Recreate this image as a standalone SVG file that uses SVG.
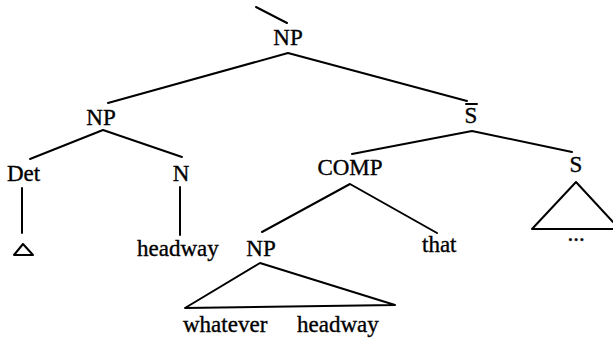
<svg xmlns="http://www.w3.org/2000/svg" width="613" height="339" viewBox="0 0 613 339">
  <style>
    .edge { stroke: #000; stroke-width: 2; fill: none; stroke-linecap: round; stroke-linejoin: round; }
    .lbl { font-family: "Liberation Serif", "Times New Roman", serif; font-size: 23px; fill: #000; stroke: #000; stroke-width: 0.35; }
    .mid { text-anchor: middle; }
  </style>
  <rect width="613" height="339" fill="#fff"/>

  <!-- tree branches -->
  <g id="connectors">
    <line class="edge" x1="256" y1="7" x2="287" y2="23"/>
    <polyline class="edge" points="108,103 288,53 467,101"/>
    <polyline class="edge" points="30,159 103,130 182,157"/>
    <line class="edge" x1="22" y1="188" x2="22" y2="233"/>
    <line class="edge" x1="180" y1="187" x2="180" y2="235"/>
    <polyline class="edge" points="352,154 472,131 572,152"/>
    <polyline class="edge" points="262,232 350,184 437,233"/>
    <!-- roof over the lower NP -->
    <polygon class="edge" points="260,263 185,308 395,305"/>
    <!-- roof over the right S -->
    <polyline class="edge" points="613,222 576,182 532,229 613,229"/>
    <!-- empty determiner -->
    <polygon class="edge" points="23,244 33,255 14,255"/>
  </g>

  <g id="np-root"><text class="lbl mid" x="288" y="45">NP</text></g>
  <g id="np-left"><text class="lbl mid" x="101" y="125">NP</text></g>
  <g id="sbar">
    <text class="lbl mid" x="471" y="123">S</text>
    <line class="edge" x1="466" y1="104" x2="477" y2="104"/>
  </g>
  <g id="det"><text class="lbl" x="7" y="181">Det</text></g>
  <g id="n"><text class="lbl mid" x="181" y="181">N</text></g>
  <g id="comp"><text class="lbl mid" x="350" y="175">COMP</text></g>
  <g id="s"><text class="lbl mid" x="576" y="172">S</text></g>
  <g id="headway1"><text class="lbl" x="137" y="256">headway</text></g>
  <g id="np-lower"><text class="lbl mid" x="261" y="256">NP</text></g>
  <g id="that"><text class="lbl" x="422" y="252">that</text></g>
  <g id="ellipsis"><text class="lbl mid" x="576" y="241">...</text></g>
  <g id="whatever"><text class="lbl" x="183" y="332">whatever</text></g>
  <g id="headway2"><text class="lbl" x="297" y="332">headway</text></g>
</svg>
